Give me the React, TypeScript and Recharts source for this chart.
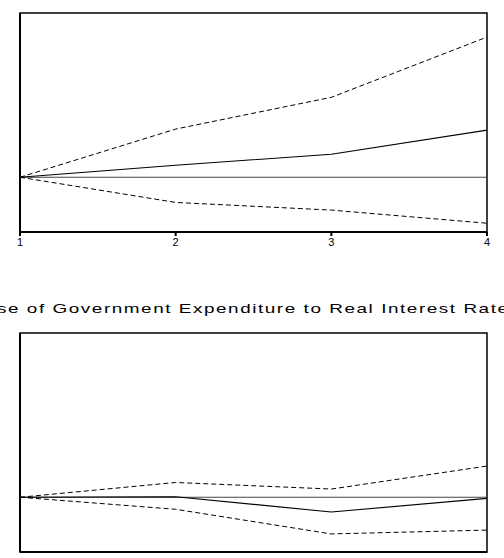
import { LineChart, Line, XAxis, YAxis, ReferenceLine, ReferenceArea } from 'recharts'

const periods = [1, 2, 3, 4]
const yTicks = [-1, 0, 1, 2, 3]

// top panel (its title is above the crop)
const topResponse = [0, 0.22, 0.42, 0.86]
const topUpper = [0, 0.88, 1.46, 2.56]
const topLower = [0, -0.46, -0.6, -0.84]

// Response of Government Expenditure to Real Interest Rate
const botResponse = [0, 0.01, -0.27, -0.02]
const botUpper = [0, 0.27, 0.15, 0.57]
const botLower = [0, -0.22, -0.67, -0.6]

const titleText = 'se of Government Expenditure to Real Interest Rate'

function build(resp: number[], up: number[], lo: number[]) {
  return periods.map((p, i) => ({ period: p, resp: resp[i], up: up[i], lo: lo[i] }))
}

function Panel({ data, labels }: { data: Array<{ period: number; resp: number; up: number; lo: number }>; labels: boolean }) {
  return (
    <LineChart width={504} height={250} data={data} margin={{ top: 13, right: 17, left: 0, bottom: 0 }}>
      <XAxis
        dataKey="period"
        type="number"
        domain={[1, 4]}
        ticks={periods}
        height={18}
        tickSize={4}
        stroke="#000"
        strokeWidth={2}
        tick={labels ? { fill: '#000', fontSize: 11, fontFamily: 'Liberation Sans, Arial, sans-serif' } : false}
      />
      <YAxis
        type="number"
        domain={[-1, 3]}
        ticks={yTicks}
        width={20}
        tickSize={6}
        stroke="#000"
        strokeWidth={2}
        tick={false}
      />
      <ReferenceArea x1={1} x2={4} y1={-1} y2={3} fill="none" stroke="#000" strokeWidth={1.5} />
      <ReferenceLine y={0} stroke="#444" strokeWidth={1} />
      <Line type="linear" dataKey="up" stroke="#000" strokeWidth={1} strokeDasharray="5 3" dot={false} isAnimationActive={false} />
      <Line type="linear" dataKey="lo" stroke="#000" strokeWidth={1} strokeDasharray="5 3" dot={false} isAnimationActive={false} />
      <Line type="linear" dataKey="resp" stroke="#000" strokeWidth={1.1} dot={false} isAnimationActive={false} />
    </LineChart>
  )
}

export default function App() {
  return (
    <div style={{ position: 'absolute', left: 0, top: 0, width: 504, height: 558, overflow: 'hidden', background: '#fff' }}>
      <div style={{ position: 'absolute', left: 0, top: 0 }}>
        <Panel data={build(topResponse, topUpper, topLower)} labels />
      </div>
      <svg style={{ position: 'absolute', left: 0, top: 290 }} width={504} height={30}>
        <g transform="scale(1.4,1)">
          <text
            x={-3 / 1.4}
            y={23}
            textLength={511 / 1.4}
            lengthAdjust="spacing"
            fontSize={13.5}
            fontFamily="Liberation Sans, Arial, sans-serif"
            fill="#000"
          >
            {titleText}
          </text>
        </g>
      </svg>
      <div style={{ position: 'absolute', left: 0, top: 320 }}>
        <Panel data={build(botResponse, botUpper, botLower)} labels={false} />
      </div>
    </div>
  )
}
